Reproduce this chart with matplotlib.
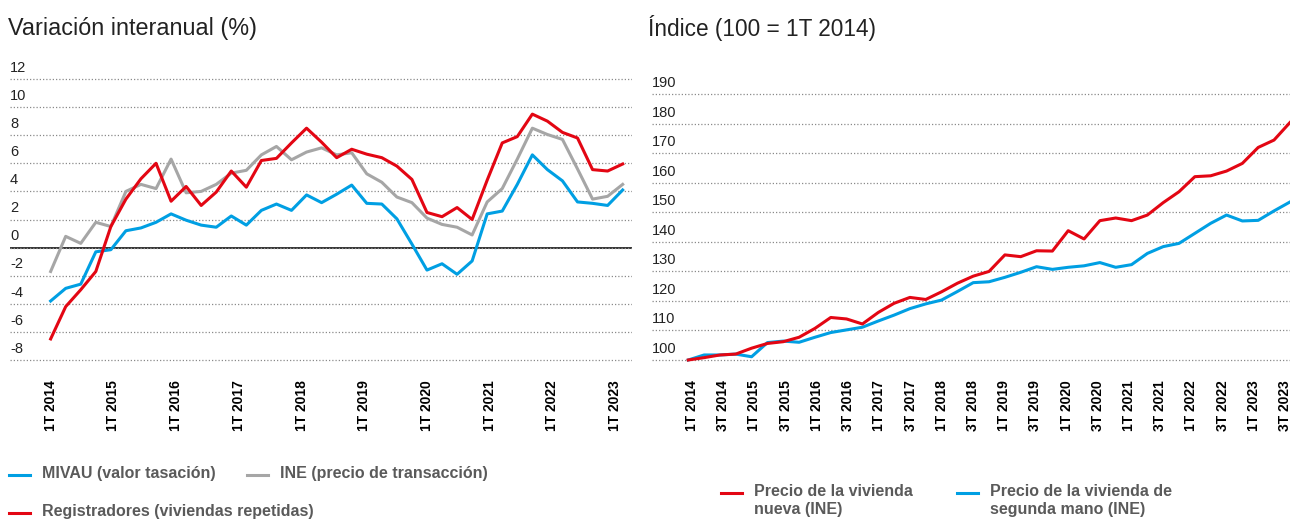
import numpy as np
import matplotlib
matplotlib.use("Agg")
import matplotlib.pyplot as plt
import matplotlib.transforms as mtransforms
from matplotlib.lines import Line2D

plt.rcParams['font.family'] = ['Liberation Sans', 'DejaVu Sans']

# left chart: year-on-year change (%), quarterly 1T 2014 .. 3T 2023
mivau = [-3.8, -2.9, -2.6, -0.3, -0.15, 1.2, 1.4, 1.8, 2.4, 1.95,
         1.6, 1.45, 2.25, 1.6, 2.65, 3.1, 2.65, 3.75, 3.2, 3.8,
         4.45, 3.15, 3.1, 2.05, 0.25, -1.6, -1.15, -1.9, -0.95, 2.4,
         2.6, 4.5, 6.6, 5.55, 4.75, 3.25, 3.15, 3.0, 4.1]
ine = [-1.7, 0.8, 0.3, 1.8, 1.5, 4.0, 4.5, 4.2, 6.3, 3.9,
       4.0, 4.5, 5.3, 5.5, 6.6, 7.2, 6.25, 6.8, 7.1, 6.6,
       6.75, 5.25, 4.65, 3.6, 3.2, 2.1, 1.65, 1.45, 0.9, 3.25,
       4.2, 6.3, 8.5, 8.05, 7.7, 5.6, 3.45, 3.65, 4.5]
registradores = [-6.5, -4.2, -3.0, -1.7, 1.5, 3.45, 4.9, 6.0, 3.3, 4.35,
                 3.0, 3.95, 5.45, 4.3, 6.2, 6.35, 7.45, 8.5, 7.5, 6.4,
                 7.0, 6.65, 6.4, 5.8, 4.85, 2.5, 2.2, 2.85, 2.0, 4.8,
                 7.45, 7.9, 9.5, 9.0, 8.2, 7.8, 5.55, 5.45, 5.95]
left_labels = ["1T 2014", "1T 2015", "1T 2016", "1T 2017", "1T 2018",
               "1T 2019", "1T 2020", "1T 2021", "1T 2022", "1T 2023"]
left_yticks = [-8, -6, -4, -2, 0, 2, 4, 6, 8, 10, 12]

# right chart: index (100 = 1T 2014)
nueva = [100, 100.8, 101.7, 102.0, 104.0, 105.6, 106.2, 107.7, 110.7, 114.4,
         113.9, 112.2, 116.1, 119.2, 121.2, 120.5, 123.1, 126.0, 128.4, 130.0,
         135.6, 135.0, 137.0, 136.9, 143.8, 141.0, 147.2, 148.1, 147.2, 149.1,
         153.3, 157.0, 162.1, 162.4, 164.0, 166.6, 172.0, 174.5, 180.4]
segunda = [100, 101.7, 101.7, 102.0, 101.1, 105.9, 106.4, 106.0, 107.7, 109.3,
           110.2, 111.1, 113.2, 115.2, 117.4, 119.0, 120.3, 123.2, 126.2, 126.5,
           128.0, 129.7, 131.6, 130.7, 131.4, 131.9, 133.0, 131.4, 132.3, 136.1,
           138.4, 139.5, 142.9, 146.3, 149.1, 147.1, 147.3, 150.5, 153.5]
right_labels = []
for year in range(2014, 2024):
    right_labels += ["1T %d" % year, "3T %d" % year]
right_yticks = [100, 110, 120, 130, 140, 150, 160, 170, 180, 190]

BLUE = "#009fe3"
RED = "#e30613"
GREY = "#a6a6a6"
TEXT = "#222222"
LEGEND = "#5a5a5a"

W, H = 1290, 520
fig = plt.figure(figsize=(W / 100, H / 100), dpi=100)


#axes box from pixel coords (x0, y0 top, x1, y1 bottom)
def box(x0, y0, x1, y1):
    return [x0 / W, 1 - y1 / H, (x1 - x0) / W, (y1 - y0) / H]


def style_axes(ax, yticks):
    for s in ax.spines.values():
        s.set_visible(False)
    ax.set_yticks(yticks)
    ax.yaxis.grid(True, linestyle=(0, (1, 1.6)), color="#8a8a8a", lw=0.9)
    ax.tick_params(axis="y", length=0, labelleft=False)
    ax.tick_params(axis="x", length=0, pad=13)
    #y labels sit on top of their gridline
    trans = mtransforms.offset_copy(ax.get_yaxis_transform(), fig=fig,
                                    x=0, y=7.3, units="dots")
    for v in yticks:
        ax.text(0, v, str(v), transform=trans, ha="left", va="baseline",
                fontsize=10.5, color=TEXT)


#left chart (2 px of slack above and below so edge gridlines show)
ax1 = fig.add_axes(box(10, 77, 632, 362))
x = np.arange(len(mivau))
ax1.axhline(0, color="#333333", lw=1.4, zorder=1)
ax1.plot(x, ine, color=GREY, lw=2.2, zorder=2)
ax1.plot(x, mivau, color=BLUE, lw=2.2, zorder=3)
ax1.plot(x, registradores, color=RED, lw=2.2, zorder=4)
ax1.set_xlim(-2.70, 38.62)
ax1.set_ylim(-8.142, 12.142)
style_axes(ax1, left_yticks)
ax1.set_xticks(np.arange(len(left_labels)) * 37.5 / 9)
ax1.set_xticklabels(left_labels, rotation=90, fontweight="bold",
                    fontsize=10, color="black")

#right chart
ax2 = fig.add_axes(box(651.7, 92.3, 1290, 362))
x2 = np.arange(len(nueva))
ax2.plot(x2, segunda, color=BLUE, lw=2.2, zorder=3)
ax2.plot(x2, nueva, color=RED, lw=2.2, zorder=4)
ax2.set_xlim(-2.31, 38.01)
ax2.set_ylim(99.32, 190.68)
style_axes(ax2, right_yticks)
ax2.set_xticks(np.linspace(0.24, 37.7, len(right_labels)))
ax2.set_xticklabels(right_labels, rotation=90, fontweight="bold",
                    fontsize=10, color="black")

#titles
fig.text(8 / W, 1 - 28 / H, "Variación interanual (%)", fontsize=16.8,
         ha="left", va="center", color=TEXT)
fig.text(648 / W, 1 - 28 / H, "Índice (100 = 1T 2014)", fontsize=16.3,
         ha="left", va="center", color=TEXT)


#legend entries drawn by hand
def legend_item(px, py, color, label):
    fig.add_artist(Line2D([px / W, (px + 21) / W], [1 - py / H, 1 - py / H],
                          color=color, lw=2.2, transform=fig.transFigure))
    fig.text((px + 33) / W, 1 - (py - 9) / H, label, ha="left", va="top",
             fontsize=11.5, fontweight="bold", color=LEGEND, linespacing=1.25)


legend_item(9, 475, BLUE, "MIVAU (valor tasación)")
legend_item(247, 475, GREY, "INE (precio de transacción)")
legend_item(9, 513, RED, "Registradores (viviendas repetidas)")
legend_item(721, 493, RED, "Precio de la vivienda\nnueva (INE)")
legend_item(957, 493, BLUE, "Precio de la vivienda de\nsegunda mano (INE)")

fig.savefig("out.png", dpi=100)
